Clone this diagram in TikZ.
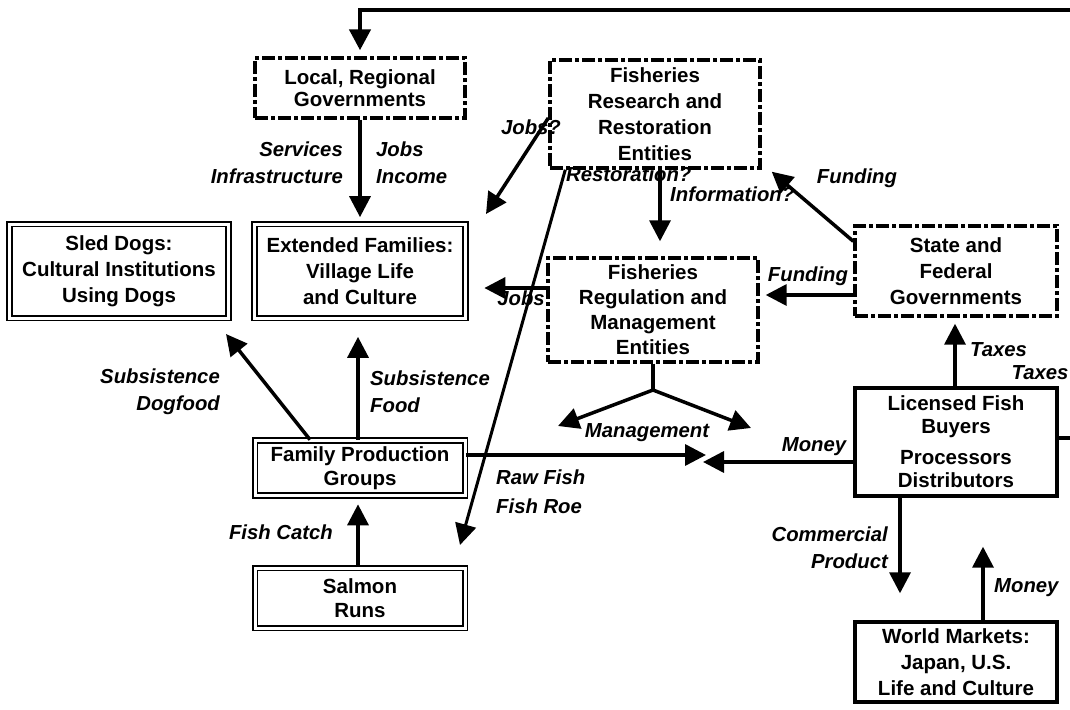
\documentclass[tikz,border=0pt]{standalone}
\usepackage{fontspec}
\setmainfont{Liberation Sans}
\usetikzlibrary{arrows.meta,calc}
\begin{document}
\begin{tikzpicture}[x=1pt,y=-1pt,
  every node/.style={font=\fontsize{20.5}{25}\selectfont\bfseries, align=center, inner sep=0pt},
  lbl/.style={font=\fontsize{20.3}{27}\selectfont\bfseries\itshape},
  dbox/.style={draw, line width=3.4pt, dash pattern=on 13pt off 3pt on 4pt off 3pt},
  wbox/.style={draw, line width=1.7pt, double, double distance=3pt},
  sbox/.style={draw, line width=3.4pt},
  arr/.style={line width=3.5pt, -{Triangle[length=21pt,width=21pt]}},
  ln/.style={line width=3.5pt},
]
\useasboundingbox (0,0) rectangle (1070,709);
\fill[white] (0,0) rectangle (1070,709);

% boxes
\node[dbox, minimum width=210pt, minimum height=60pt, font=\fontsize{20.5}{22}\selectfont\bfseries] (loc) at (360,88) {Local, Regional\\Governments};
\node[dbox, minimum width=210pt, minimum height=108pt, font=\fontsize{20.5}{26}\selectfont\bfseries] (res) at (655,114) {Fisheries\\Research and\\Restoration\\Entities};
\node[wbox, minimum width=219pt, minimum height=94pt, font=\fontsize{20.5}{26}\selectfont\bfseries] (sled) at (119,271) {Sled Dogs:\\Cultural Institutions\\Using Dogs};
\node[wbox, minimum width=211pt, minimum height=94pt, font=\fontsize{20.5}{26}\selectfont\bfseries] (ext) at (360,271) {Extended Families:\\Village Life\\and Culture};
\node[dbox, minimum width=210pt, minimum height=104pt] (reg) at (653,310) {Fisheries\\Regulation and\\Management\\Entities};
\node[dbox, minimum width=202pt, minimum height=90pt, font=\fontsize{20.5}{26}\selectfont\bfseries] (state) at (956,271) {State and\\Federal\\Governments};
\node[sbox, minimum width=202pt, minimum height=108pt, font=\fontsize{20.5}{23}\selectfont\bfseries] (lic) at (956,442) {Licensed Fish\\Buyers\\[8pt]Processors\\Distributors};
\node[wbox, minimum width=210pt, minimum height=55pt, font=\fontsize{20.5}{24}\selectfont\bfseries] (fam) at (360,468) {Family Production\\Groups};
\node[wbox, minimum width=210pt, minimum height=60pt, font=\fontsize{20.5}{24}\selectfont\bfseries] (salm) at (360,598) {Salmon\\Runs};
\node[sbox, minimum width=202pt, minimum height=80pt, font=\fontsize{20.5}{26}\selectfont\bfseries] (wm) at (956,662) {World Markets:\\Japan, U.S.\\Life and Culture};

% free ends
\coordinate (topR) at (1072,10);
\coordinate (rightR) at (1072,438);
\coordinate (jq) at (486,214);
\coordinate (rtipA) at (460,545);
\coordinate (dtip) at (226,334);
\coordinate (mtip) at (703,462);
\coordinate (rtip) at (706,455);
\coordinate (mj) at (653,390);
\coordinate (mL) at (558,426);
\coordinate (mR) at (751,428);

% connectors
\draw[arr, line width=4.5pt, shorten >=6pt] (topR) -| (loc.north);
\draw[ln] ($(lic.east)+(0,-4)$) -- (rightR);
\draw[arr, shorten >=6pt] (loc.south) -- (ext.north);
\draw[arr] ($(res.west)+(0,4)$) -- (jq);
\draw[arr, line width=3pt] ($(res.south west)+(17,0)$) -- (rtipA);
\draw[arr, shorten >=15pt] ($(res.south)+(5,0)$) -- ($(reg.north)+(7,0)$);
\coordinate (j1) at ($(reg.west)+(0,-22)$);
\draw[arr, shorten >=18pt] (j1) -- (j1 -| ext.east);
\coordinate (f1) at ($(state.west)+(0,24)$);
\draw[arr, shorten >=6pt] (f1) -- (f1 -| reg.east);
\draw[arr] ($(state.north west)+(0,17)$) -- ($(res.south east)+(10,2)$);
\draw[arr, shorten >=6pt] (lic.north -| 955,0) -- (state.south -| 955,0);
\draw[arr] ($(lic.west)+(0,20)$) -- (mtip);
\draw[arr] ($(fam.east)+(0,-13)$) -- (rtip);
\draw[arr, shorten >=18pt] ($(fam.north)+(-2,0)$) -- ($(ext.south)+(-2,0)$);
\draw[arr] ($(fam.north)+(-50,0)$) -- (dtip);
\draw[arr, shorten >=8pt] ($(salm.north)+(-2,0)$) -- ($(fam.south)+(-2,0)$);
\draw[ln] (reg.south) -- (mj);
\draw[arr] (mj) -- (mL);
\draw[arr] (mj) -- (mR);
\draw[arr, shorten >=27pt] ($(lic.south)+(-56,0)$) -- ($(wm.north)+(-56,0)$);
\draw[arr, shorten >=49pt] ($(wm.north)+(27,0)$) -- ($(lic.south)+(27,0)$);

% labels
\node[lbl, anchor=east, align=right] (l1) at (343,163) {Services\\Infrastructure};
\node[lbl, anchor=west, align=left] (l2) at (376,163) {Jobs\\Income};
\node[lbl] (l3) at (531,127) {Jobs?};
\node[lbl, anchor=west] (l4) at (566,174) {Restoration?};
\node[lbl, anchor=west] (l5) at (670,194) {Information?};
\node[lbl] (l6) at (857,178) {Funding};
\node[lbl] (l7) at (521,298) {Jobs};
\node[lbl] (l8) at (808,276) {Funding};
\node[lbl, anchor=east, align=right] (l9) at (220,392) {Subsistence\\Dogfood};
\node[lbl, anchor=west, align=left] (l10) at (370,392) {Subsistence\\Food};
\node[lbl] (l11) at (647,433) {Management};
\node[lbl, anchor=west] (l12) at (970,350) {Taxes};
\node[lbl] (l13) at (1040,373) {Taxes};
\node[lbl] (l14) at (814,447) {Money};
\node[lbl, anchor=west, align=left, font=\fontsize{20.3}{29}\selectfont\bfseries\itshape] (l15) at (496,492) {Raw Fish\\Fish Roe};
\node[lbl, anchor=east] (l16) at (333,532) {Fish Catch};
\node[lbl, anchor=east, align=right] (l17) at (888,548) {Commercial\\Product};
\node[lbl, anchor=west] (l18) at (994,588) {Money};
\end{tikzpicture}
\end{document}
